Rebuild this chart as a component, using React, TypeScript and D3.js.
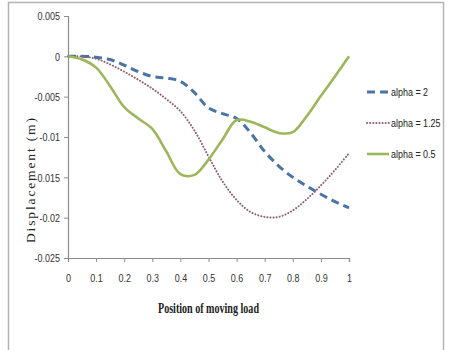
import React, { useEffect, useRef } from "react";
import * as d3 from "d3";

// load position along the span (0..1)
const positions = [
  0, 0.05, 0.1, 0.15, 0.2, 0.25, 0.3, 0.35, 0.4, 0.45, 0.5, 0.55, 0.6, 0.65, 0.7,
  0.75, 0.8, 0.85, 0.9, 0.95, 1,
];

// midspan displacement (m) per alpha
const alpha2 = [
  0, 0, -0.0001, -0.0004, -0.0011, -0.0019, -0.0025, -0.0027, -0.0031, -0.0045,
  -0.0064, -0.0071, -0.0077, -0.0095, -0.0118, -0.0136, -0.015, -0.0161, -0.0171,
  -0.018, -0.0188,
];
const alpha125 = [
  0, 0, -0.0003, -0.001, -0.0019, -0.0029, -0.004, -0.0053, -0.0068, -0.0092,
  -0.0124, -0.0155, -0.0178, -0.0193, -0.0199, -0.0199, -0.0191, -0.0177, -0.016,
  -0.0141, -0.012,
];
const alpha05 = [
  0, -0.0004, -0.0014, -0.0037, -0.0063, -0.0077, -0.009, -0.0118, -0.0146,
  -0.0147, -0.0128, -0.0103, -0.0079, -0.0081, -0.0088, -0.0095, -0.0094, -0.0074,
  -0.0049, -0.0025, 0,
];

const xTicks = [0, 0.1, 0.2, 0.3, 0.4, 0.5, 0.6, 0.7, 0.8, 0.9, 1];
const yTicks = [0.005, 0, -0.005, -0.01, -0.015, -0.02, -0.025];

const series = [
  { name: "alpha = 2", values: alpha2, color: "#4a74a8", width: 3, dash: "8,5", cap: "butt" },
  { name: "alpha = 1.25", values: alpha125, color: "#8c5d73", width: 2, dash: "0.1,3", cap: "round" },
  { name: "alpha = 0.5", values: alpha05, color: "#9bb75a", width: 2.6, dash: null, cap: "butt" },
];

const tickFont = "'Liberation Sans', Arial, sans-serif";

// squeeze text horizontally to mimic a condensed face
function condense(sel: d3.Selection<any, any, any, any>, k: number) {
  sel.each(function (this: SVGTextElement) {
    const w = this.getComputedTextLength();
    d3.select(this)
      .attr("textLength", w * k)
      .attr("lengthAdjust", "spacingAndGlyphs");
  });
}

const App = () => {
  const ref = useRef<SVGSVGElement>(null);

  useEffect(() => {
    const svg = d3.select(ref.current);
    svg.selectAll("*").remove();

    const x = d3.scaleLinear().domain([0, 1]).range([68, 349]);
    const y = d3.scaleLinear().domain([-0.025, 0.005]).range([258, 16]);

    // outer frame
    svg
      .append("rect")
      .attr("x", 8.5)
      .attr("y", 2.5)
      .attr("width", 435)
      .attr("height", 360)
      .attr("fill", "white")
      .attr("stroke", "#b4b4b4")
      .attr("stroke-width", 1.5);

    const yAxis = svg
      .append("g")
      .attr("transform", `translate(${x(0)},0)`)
      .call(
        d3
          .axisLeft(y)
          .tickValues(yTicks)
          .tickSize(4)
          .tickFormat((d) => String(+d))
      );
    yAxis.selectAll("path, line").attr("stroke", "#8c8c8c");
    yAxis
      .selectAll("text")
      .attr("x", -8)
      .attr("fill", "#333")
      .style("font-family", tickFont)
      .style("font-size", "11.5px")
      .call(condense, 0.78);

    const xAxis = svg
      .append("g")
      .attr("transform", `translate(0,${y(-0.025)})`)
      .call(
        d3
          .axisBottom(x)
          .tickValues(xTicks)
          .tickSize(4)
          .tickFormat((d) => String(+d))
      );
    xAxis.selectAll("path, line").attr("stroke", "#8c8c8c");
    xAxis
      .selectAll("text")
      .attr("y", 16)
      .attr("fill", "#333")
      .style("font-family", tickFont)
      .style("font-size", "11.5px")
      .call(condense, 0.78);
    svg.selectAll(".domain").attr("stroke-width", 1.2);

    const line = d3
      .line<number>()
      .x((_, i) => x(positions[i]))
      .y((d) => y(d))
      .curve(d3.curveCatmullRom.alpha(0.5));

    series.forEach((s) => {
      svg
        .append("path")
        .datum(s.values)
        .attr("d", line)
        .attr("fill", "none")
        .attr("stroke", s.color)
        .attr("stroke-width", s.width)
        .attr("stroke-dasharray", s.dash)
        .attr("stroke-linecap", s.cap);
    });

    // legend (labels squeezed with a transform so their boxes stay honest)
    const legend = svg.append("g").attr("transform", "translate(366,92)");
    series.forEach((s, i) => {
      const g = legend.append("g").attr("transform", `translate(0,${i * 31})`);
      g.append("line")
        .attr("x1", 1)
        .attr("x2", 23)
        .attr("stroke", s.color)
        .attr("stroke-width", s.width)
        .attr("stroke-dasharray", s.dash)
        .attr("stroke-linecap", s.cap);
      g.append("g")
        .attr("transform", "translate(25,0) scale(0.78,1)")
        .append("text")
        .attr("dy", "0.35em")
        .attr("fill", "#222")
        .style("font-family", tickFont)
        .style("font-size", "11.5px")
        .text(s.name);
    });

    // axis titles
    svg
      .append("text")
      .attr("x", 158)
      .attr("y", 313)
      .attr("textLength", 101)
      .attr("lengthAdjust", "spacingAndGlyphs")
      .attr("fill", "#222")
      .style("font-family", "'Liberation Serif', 'Times New Roman', serif")
      .style("font-size", "14px")
      .style("font-weight", "bold")
      .text("Position of moving load");

    svg
      .append("text")
      .attr("transform", "translate(35,243) rotate(-90)")
      .attr("textLength", 125)
      .attr("lengthAdjust", "spacing")
      .attr("fill", "#222")
      .style("font-family", "'Liberation Serif', 'Times New Roman', serif")
      .style("font-size", "13.5px")
      .text("Displacement (m)");
  }, []);

  return (
    <svg
      ref={ref}
      width={451}
      height={350}
      style={{ position: "absolute", left: 0, top: 0, background: "white" }}
    />
  );
};

export default App;
